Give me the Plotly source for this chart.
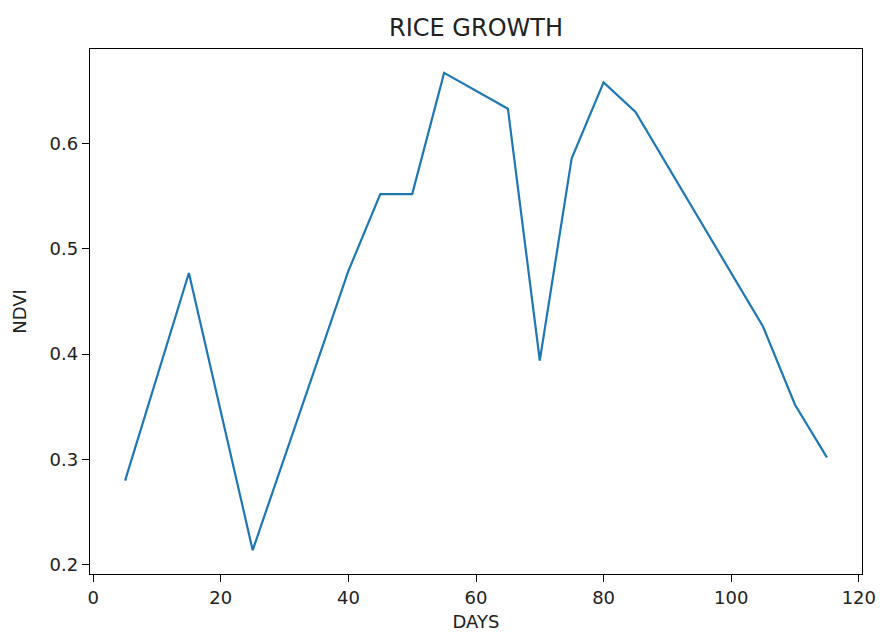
import plotly.graph_objects as go

# NDVI observations over the rice growing season
days = [5, 15, 25, 40, 45, 50, 55, 65, 70, 75, 80, 85, 105, 110, 115]
ndvi = [0.280, 0.477, 0.214, 0.479, 0.552, 0.552, 0.667, 0.633, 0.394,
        0.586, 0.658, 0.630, 0.426, 0.352, 0.302]

x_ticks = [0, 20, 40, 60, 80, 100, 120]
y_ticks = [0.2, 0.3, 0.4, 0.5, 0.6]

# axis limits padded by 5% of the data span on each side
x_pad = 0.05 * (max(days) - min(days))
y_pad = 0.05 * (max(ndvi) - min(ndvi))
x_range = [min(days) - x_pad, max(days) + x_pad]
y_range = [min(ndvi) - y_pad, max(ndvi) + y_pad]

font_family = "DejaVu Sans"

fig = go.Figure(
    go.Scatter(
        x=days,
        y=ndvi,
        mode="lines",
        line=dict(color="#1f77b4", width=2.2),
        showlegend=False,
    )
)

axis_common = dict(
    showgrid=False,
    zeroline=False,
    showline=True,
    linecolor="black",
    linewidth=1.3,
    mirror=True,
    ticks="outside",
    ticklen=7,
    tickwidth=1.2,
    tickcolor="black",
    tickfont=dict(family=font_family, size=18, color="#222"),
    automargin=False,
)

fig.update_xaxes(
    range=x_range,
    tickvals=x_ticks,
    ticktext=[str(v) for v in x_ticks],
    title=dict(text="DAYS", font=dict(family=font_family, size=18, color="#222"), standoff=8),
    **axis_common,
)
fig.update_yaxes(
    range=y_range,
    tickvals=y_ticks,
    ticktext=[f"{v:.1f}" for v in y_ticks],
    title=dict(text="NDVI", font=dict(family=font_family, size=18, color="#222"), standoff=18),
    **axis_common,
)

fig.update_layout(
    width=880,
    height=633,
    margin=dict(l=90, r=18, t=49, b=59, autoexpand=False),
    paper_bgcolor="white",
    plot_bgcolor="white",
    title=dict(
        text="RICE GROWTH",
        font=dict(family=font_family, size=24, color="#222"),
        x=0.5,
        xref="paper",
        xanchor="center",
        y=1,
        yref="paper",
        yanchor="bottom",
        pad=dict(b=13),
    ),
)

fig.write_html("out.html")
